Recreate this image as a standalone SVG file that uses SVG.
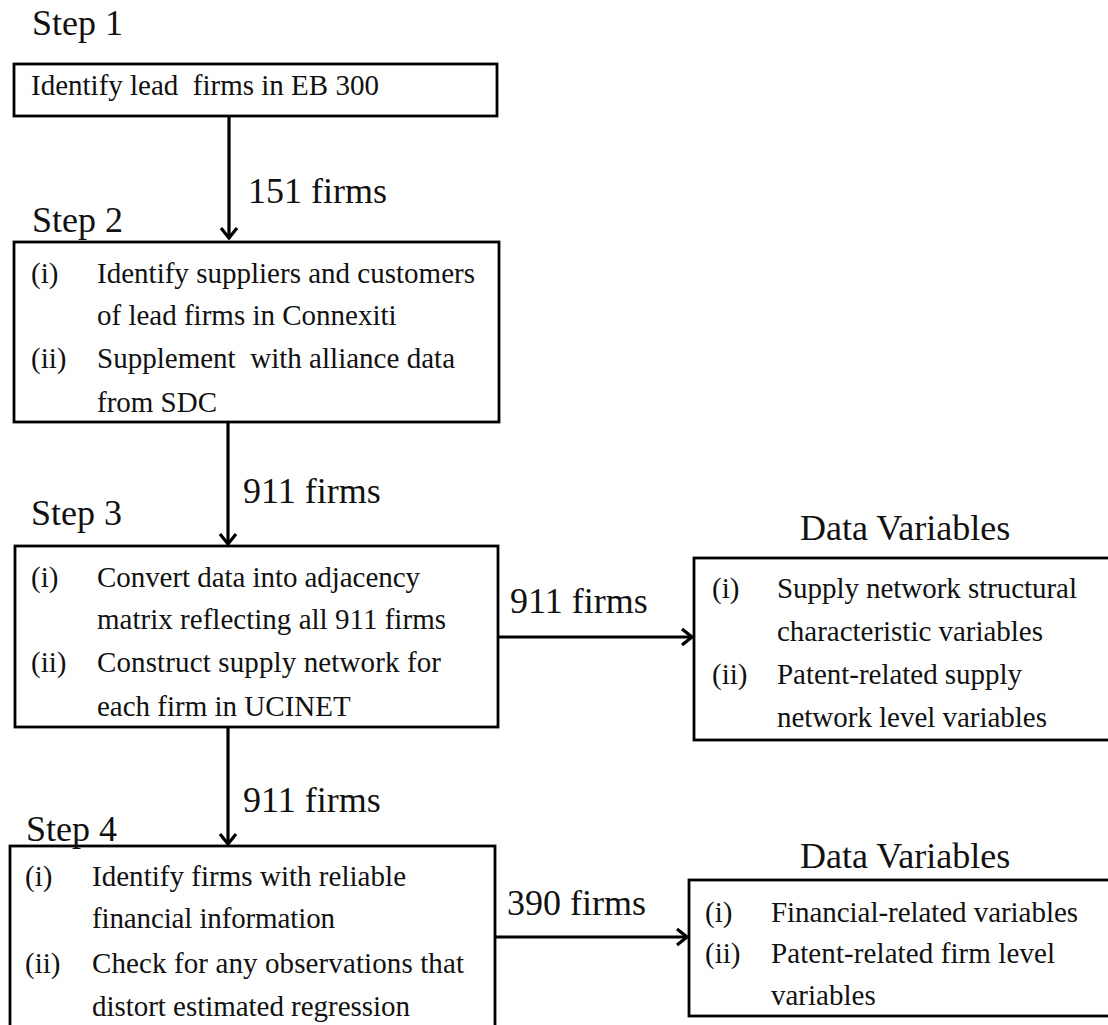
<svg xmlns="http://www.w3.org/2000/svg" width="1108" height="1025" viewBox="0 0 1108 1025">
<style>
.box{fill:#fff;stroke:#000;stroke-width:2.8}
.t{font-family:"Liberation Serif","Times New Roman",serif;font-size:29px;fill:#111}
.h{font-family:"Liberation Serif","Times New Roman",serif;font-size:36px;fill:#111}
.c{stroke:#000;stroke-width:3.2;fill:none}
</style>
<defs>
<marker id="ah" markerUnits="userSpaceOnUse" viewBox="0 0 14 20" refX="12" refY="10" markerWidth="14" markerHeight="20" orient="auto">
<path d="M2,2 L12,10 L2,18" fill="none" stroke="#000" stroke-width="3.2" stroke-linejoin="miter"/>
</marker>
</defs>
<rect width="1108" height="1025" fill="#fff"/>

<g id="connectors">
<line class="c" x1="229" y1="116" x2="229" y2="238" marker-end="url(#ah)"/>
<line class="c" x1="228" y1="422" x2="228" y2="544" marker-end="url(#ah)"/>
<line class="c" x1="228" y1="727" x2="228" y2="844" marker-end="url(#ah)"/>
<line class="c" x1="498" y1="637" x2="692" y2="637" marker-end="url(#ah)"/>
<line class="c" x1="495" y1="937" x2="687" y2="937" marker-end="url(#ah)"/>
<text class="h" x="248" y="203">151 firms</text>
<text class="h" x="243" y="503">911 firms</text>
<text class="h" x="510" y="613">911 firms</text>
<text class="h" x="243" y="812">911 firms</text>
<text class="h" x="507" y="915">390 firms</text>
</g>

<g id="step1">
<text class="h" x="32" y="35">Step 1</text>
<rect class="box" x="14" y="64" width="483" height="52"/>
<text class="t" x="31" y="95" xml:space="preserve">Identify lead  firms in EB 300</text>
</g>

<g id="step2">
<rect class="box" x="14" y="242" width="485" height="180"/>
<text class="h" x="32" y="232">Step 2</text>
<text class="t" x="31" y="283">(i)</text>
<text class="t" x="97" y="283" textLength="378" lengthAdjust="spacing">Identify suppliers and customers</text>
<text class="t" x="97" y="325">of lead firms in Connexiti</text>
<text class="t" x="31" y="368">(ii)</text>
<text class="t" x="97" y="368" textLength="358" lengthAdjust="spacing" xml:space="preserve">Supplement  with alliance data</text>
<text class="t" x="97" y="412">from SDC</text>
</g>

<g id="step3">
<text class="h" x="31" y="525">Step 3</text>
<rect class="box" x="15" y="546" width="483" height="181"/>
<text class="t" x="31" y="587">(i)</text>
<text class="t" x="97" y="587" textLength="323" lengthAdjust="spacing">Convert data into adjacency</text>
<text class="t" x="97" y="629" textLength="349" lengthAdjust="spacing">matrix reflecting all 911 firms</text>
<text class="t" x="31" y="672">(ii)</text>
<text class="t" x="97" y="672" textLength="344" lengthAdjust="spacing">Construct supply network for</text>
<text class="t" x="97" y="716">each firm in UCINET</text>
</g>

<g id="step4">
<rect class="box" x="10" y="846" width="485" height="200"/>
<text class="h" x="26" y="841">Step 4</text>
<text class="t" x="25" y="886">(i)</text>
<text class="t" x="92" y="886" textLength="314" lengthAdjust="spacing">Identify firms with reliable</text>
<text class="t" x="92" y="928" textLength="243" lengthAdjust="spacing">financial information</text>
<text class="t" x="25" y="973">(ii)</text>
<text class="t" x="92" y="973" textLength="372" lengthAdjust="spacing">Check for any observations that</text>
<text class="t" x="92" y="1016" textLength="318" lengthAdjust="spacing">distort estimated regression</text>
</g>

<g id="data1">
<text class="h" x="800" y="540">Data Variables</text>
<rect class="box" x="694" y="558" width="430" height="182"/>
<text class="t" x="712" y="598">(i)</text>
<text class="t" x="777" y="598" textLength="300" lengthAdjust="spacing">Supply network structural</text>
<text class="t" x="777" y="641" textLength="266" lengthAdjust="spacing">characteristic variables</text>
<text class="t" x="712" y="684">(ii)</text>
<text class="t" x="777" y="684" textLength="245" lengthAdjust="spacing">Patent-related supply</text>
<text class="t" x="777" y="727" textLength="270" lengthAdjust="spacing">network level variables</text>
</g>

<g id="data2">
<text class="h" x="800" y="868">Data Variables</text>
<rect class="box" x="689" y="880" width="435" height="136"/>
<text class="t" x="705" y="922">(i)</text>
<text class="t" x="771" y="922" textLength="307" lengthAdjust="spacing">Financial-related variables</text>
<text class="t" x="705" y="963">(ii)</text>
<text class="t" x="771" y="963" textLength="284" lengthAdjust="spacing">Patent-related firm level</text>
<text class="t" x="771" y="1005">variables</text>
</g>
</svg>
